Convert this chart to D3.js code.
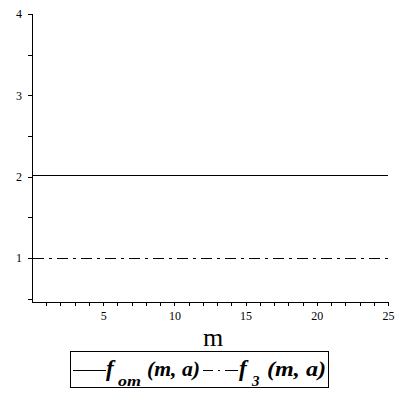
<!DOCTYPE html>
<html>
<head>
<meta charset="utf-8">
<script src="https://cdnjs.cloudflare.com/ajax/libs/d3/7.8.5/d3.min.js"></script>
<style>
  html, body { margin: 0; padding: 0; background: #fff; }
  svg text { font-family: "Liberation Serif", "DejaVu Serif", serif; fill: #000; }
  svg path, svg line, svg rect { shape-rendering: crispEdges; }
</style>
</head>
<body>
<svg id="chart" width="400" height="400"></svg>
<script>
// Данные графика
const mValues = [0.1, 25];
const fomValues = [2.02, 2.02];
const f3Values = [1, 1];
const xMajorTicks = [5, 10, 15, 20, 25];
const yMajorTicks = [1, 2, 3, 4];

const svg = d3.select('#chart');

const x = d3.scaleLinear().domain([0, 25]).range([32, 388]);
const y = d3.scaleLinear().domain([0.46, 4]).range([302, 14]);

// Оси
const xAxis = svg.append('g').attr('transform', `translate(0,${y.range()[0]})`);
xAxis.call(d3.axisBottom(x).tickValues(d3.range(1, 26)).tickSize(4).tickFormat(''));
xAxis.append('g').call(d3.axisBottom(x).tickValues(xMajorTicks).tickSize(4).tickPadding(5).tickFormat(d3.format('d')));

const yAxis = svg.append('g').attr('transform', `translate(${x.range()[0]},0)`);
yAxis.call(d3.axisLeft(y).tickValues([0.5, 1.5, 2.5, 3.5]).tickSize(4).tickFormat(''));
yAxis.append('g').call(d3.axisLeft(y).tickValues(yMajorTicks).tickSize(4).tickPadding(6).tickFormat(d3.format('d')));

svg.selectAll('.domain').attr('stroke', '#000').attr('stroke-width', 1);
svg.selectAll('.tick line').attr('stroke', '#000');
svg.selectAll('.tick text').attr('fill', '#000').style('font-size', '12px').style('font-family', '"Liberation Serif", serif');
xAxis.selectAll('g > g .domain').remove();
yAxis.selectAll('g > g .domain').remove();
xAxis.select('.domain').attr('d', `M${x.range()[0]},0H${x.range()[1]}`);
yAxis.select('.domain').attr('d', `M0,${y.range()[0]}V${y.range()[1]}`);

// Линии
const line = d3.line().x(d => x(d[0])).y(d => y(d[1]));

svg.append('path')
    .datum(mValues.map((m, i) => [m, fomValues[i]]))
    .attr('d', line)
    .attr('fill', 'none')
    .attr('stroke', '#000')
    .attr('stroke-width', 1);

svg.append('path')
    .datum(mValues.map((m, i) => [m, f3Values[i]]))
    .attr('d', line)
    .attr('fill', 'none')
    .attr('stroke', '#000')
    .attr('stroke-width', 1)
    .attr('stroke-dasharray', '11,5,3,5');

// Подпись оси X
svg.append('text')
    .attr('x', 213)
    .attr('y', 346)
    .attr('text-anchor', 'middle')
    .attr('font-size', 26)
    .text('m');

// Легенда
const legend = svg.append('g');
legend.append('rect')
    .attr('x', 70.5).attr('y', 351.5)
    .attr('width', 258).attr('height', 36)
    .attr('fill', 'none').attr('stroke', '#000');

function legendText(xPos, yPos, size, str, width) {
    const t = legend.append('text')
        .attr('x', xPos).attr('y', yPos)
        .attr('font-size', size)
        .attr('font-weight', 'bold')
        .attr('font-style', 'italic')
        .text(str);
    if (width) t.attr('textLength', width).attr('lengthAdjust', 'spacingAndGlyphs');
    return t;
}

legend.append('line')
    .attr('x1', 73).attr('x2', 106).attr('y1', 370.5).attr('y2', 370.5)
    .attr('stroke', '#000');
legendText(106, 376, 23, 'f');
legendText(118, 386, 15, 'om', 23);
legendText(147, 376, 21, '(m, a)', 53);

legend.append('line')
    .attr('x1', 203).attr('x2', 238).attr('y1', 370.5).attr('y2', 370.5)
    .attr('stroke', '#000')
    .attr('stroke-dasharray', '10,5,2,5,13');
legendText(239, 376, 23, 'f');
legendText(252, 386, 15, '3');
legendText(267, 376, 21, '(m, a)', 59);
</script>
</body>
</html>
